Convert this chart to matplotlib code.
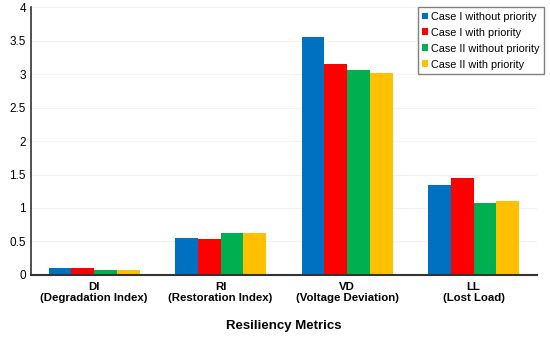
import numpy as np
import matplotlib
matplotlib.use("Agg")
import matplotlib.pyplot as plt

plt.rcParams["font.family"] = ["Liberation Sans", "DejaVu Sans"]

categories = ["DI\n(Degradation Index)", "RI\n(Restoration Index)",
              "VD\n(Voltage Deviation)", "LL\n(Lost Load)"]
series = ["Case I without priority", "Case I with priority",
          "Case II without priority", "Case II with priority"]
case1_no = [0.10, 0.55, 3.56, 1.34]
case1_pr = [0.10, 0.54, 3.16, 1.45]
case2_no = [0.07, 0.62, 3.06, 1.07]
case2_pr = [0.07, 0.62, 3.02, 1.10]
colors = ["#0070C0", "#FF0000", "#00B050", "#FFC000"]

fig = plt.figure(figsize=(5.5, 3.38), dpi=100)
ax = fig.add_axes([0.056, 0.187, 0.92, 0.791])

x = np.arange(len(categories))
w = 0.18
for i, (vals, lab, col) in enumerate(zip([case1_no, case1_pr, case2_no, case2_pr], series, colors)):
    ax.bar(x + (i - 1.5) * w, vals, w, color=col, label=lab, zorder=2)

ax.set_xlim(-0.5, 3.5)
ax.set_ylim(0, 4)
ax.set_yticks(np.arange(0, 4.01, 0.5))
ax.set_yticklabels(["0", "0.5", "1", "1.5", "2", "2.5", "3", "3.5", "4"])
ax.set_xticks(x)
ax.set_xticklabels(categories, fontweight="bold", fontsize=8.2)
ax.tick_params(axis="y", labelsize=8.5, length=0)
ax.tick_params(axis="x", length=0, pad=5)
ax.grid(axis="y", color="#f2f2f2", lw=0.8, zorder=0)
for s in ["top", "right"]:
    ax.spines[s].set_visible(False)
ax.spines["left"].set_linewidth(1.2)
ax.spines["bottom"].set_linewidth(1.5)
ax.spines["left"].set_color("#333333")
ax.spines["bottom"].set_color("#333333")
ax.set_xlabel("Resiliency Metrics", fontweight="bold", fontsize=9.5, labelpad=12)

leg = ax.legend(loc="upper right", bbox_to_anchor=(1.014, 1.0), fontsize=7.8,
                handlelength=0.6, handleheight=0.6, handletextpad=0.25,
                labelspacing=0.55, borderpad=0.4, borderaxespad=0,
                fancybox=False, framealpha=1)
leg.get_frame().set_edgecolor("#808080")

fig.savefig("out.png", dpi=100)
